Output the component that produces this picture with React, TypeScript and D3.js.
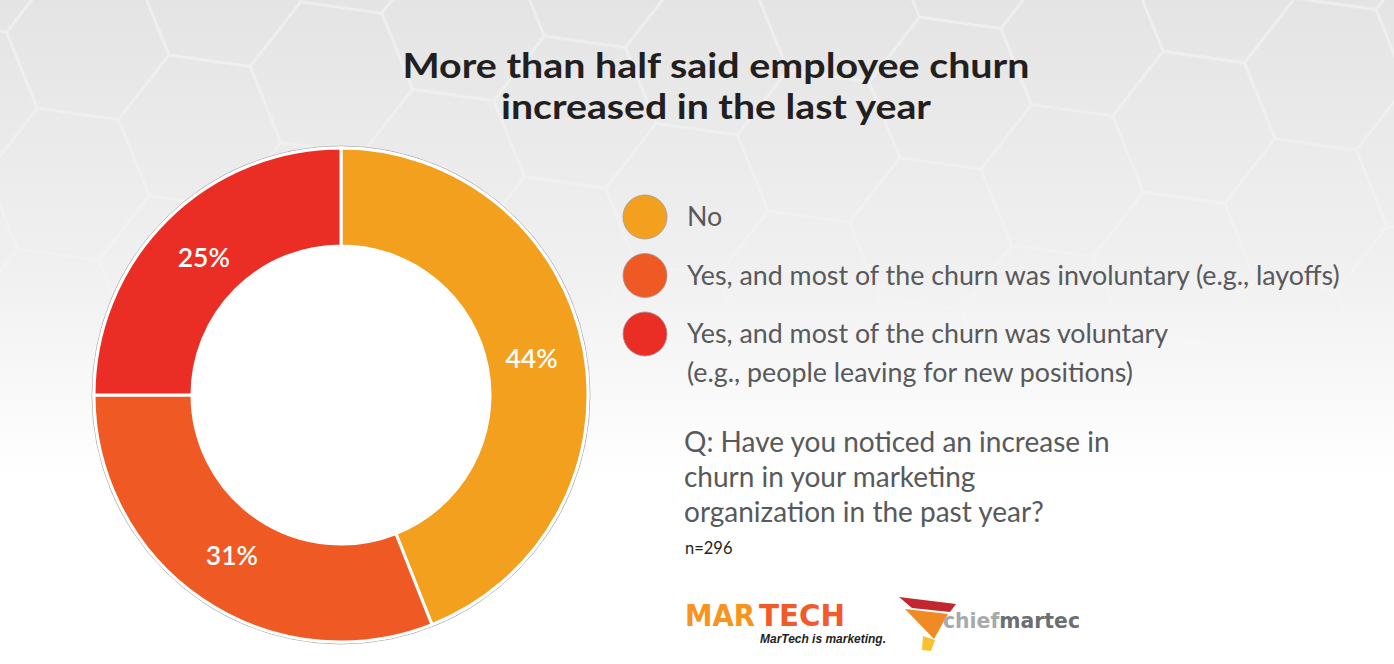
import React from "react";
import * as d3 from "d3";

const W = 1394;
const H = 664;

const titleLines = ["More than half said employee churn", "increased in the last year"];
const categories = ["No", "Yes, involuntary", "Yes, voluntary"];
const values = [44, 31, 25];
const colors = ["#F2A01E", "#EF5A24", "#EA2E25"];
const legendLines = [
  ["No"],
  ["Yes, and most of the churn was involuntary (e.g., layoffs)"],
  ["Yes, and most of the churn was voluntary", "(e.g., people leaving for new positions)"],
];
const questionLines = ["Q: Have you noticed an increase in", "churn in your marketing", "organization in the past year?"];
const sampleNote = "n=296";

export default function App() {
  const cx = 341;
  const cy = 395;
  const rOuter = 247;
  const rInner = 149;

  const pie = d3.pie<number>().sort(null).value((d) => d).startAngle(0).endAngle(2 * Math.PI);
  const arcs = pie(values);
  const arc = d3.arc<d3.PieArcDatum<number>>().innerRadius(rInner).outerRadius(rOuter);
  const labelArc = d3.arc<d3.PieArcDatum<number>>().innerRadius(194).outerRadius(194);

  const R = 82;
  const hh = Math.sqrt(3) * R;
  const hex = (x: number, y: number) => {
    const pts = d3.range(6).map((i) => {
      const a = (Math.PI / 3) * i;
      return [x + R * Math.cos(a), y + R * Math.sin(a)];
    });
    return "M" + pts.map((p) => p.join(",")).join("L") + "Z";
  };
  const hexPath = [hex(0, 0), hex(0, hh), hex(3 * R, 0), hex(3 * R, hh), hex(1.5 * R, hh / 2)].join(" ");

  const legendY = d3.scalePoint<string>().domain(categories).range([217, 334]);
  const titleWidths = [627, 430];

  return (
    <svg width={W} height={H} style={{ position: "fixed", left: 0, top: 0, display: "block" }}>
      <defs>
        <linearGradient id="bg" x1="0" y1="0" x2="0" y2="1">
          <stop offset="0" stopColor="#e4e4e4" />
          <stop offset="0.4" stopColor="#f0f0f0" />
          <stop offset="0.72" stopColor="#ffffff" />
          <stop offset="1" stopColor="#ffffff" />
        </linearGradient>
        <pattern id="hexes" patternUnits="userSpaceOnUse" width={3 * R} height={hh} x={-30} y={-40} patternTransform="rotate(8)">
          <path d={hexPath} fill="none" stroke="#ffffff" strokeWidth={3} strokeOpacity={0.4} />
        </pattern>
        <linearGradient id="fadeG" x1="0" y1="0" x2="0" y2="1">
          <stop offset="0" stopColor="#fff" stopOpacity={1} />
          <stop offset="0.7" stopColor="#fff" stopOpacity={0} />
        </linearGradient>
        <mask id="fade">
          <rect width={W} height={H} fill="url(#fadeG)" />
        </mask>
      </defs>
      <rect width={W} height={H} fill="url(#bg)" />
      <rect width={W} height={H} fill="url(#hexes)" mask="url(#fade)" />

      <g fontFamily="Lato, 'Open Sans', sans-serif" fontWeight={700} fontSize={34} fill="#231F20" textAnchor="middle">
        {titleLines.map((t, i) => (
          <text key={i} x={716} y={78 + i * 41} textLength={titleWidths[i]} lengthAdjust="spacingAndGlyphs">
            {t}
          </text>
        ))}
      </g>

      <g transform={`translate(${cx},${cy})`}>
        <circle r={rOuter + 2} fill="#ffffff" stroke="#b5b5b5" strokeWidth={1} />
        {arcs.map((a, i) => (
          <path key={i} d={arc(a) || ""} fill={colors[i]} stroke="#ffffff" strokeWidth={3} />
        ))}
        <circle r={rInner - 1} fill="#ffffff" />
        {arcs.map((a, i) => {
          const [x, y] = labelArc.centroid(a);
          return (
            <text
              key={i}
              x={x}
              y={y}
              dy="0.35em"
              textAnchor="middle"
              fontFamily="Lato, sans-serif"
              fontWeight={600}
              fontSize={26.5}
              fill="#ffffff"
            >
              {values[i]}%
            </text>
          );
        })}
      </g>

      <g fontFamily="Lato, sans-serif" fontSize={26.8} fill="#58595B">
        {categories.map((c, i) => {
          const y = legendY(c) as number;
          return (
            <g key={c}>
              <circle cx={645} cy={y} r={22} fill={colors[i]} stroke="#9a9a9a" strokeWidth={0.8} />
              {legendLines[i].map((t, j) => (
                <text key={j} x={687} y={y + 9 + j * 39}>
                  {t}
                </text>
              ))}
            </g>
          );
        })}
      </g>

      <g fontFamily="Lato, sans-serif" fontSize={28} fill="#58595B">
        {questionLines.map((t, i) => (
          <text key={i} x={684} y={452 + i * 35}>
            {t}
          </text>
        ))}
      </g>
      <text x={685} y={554} fontFamily="Lato, sans-serif" fontSize={16.5} fill="#231F20">
        {sampleNote}
      </text>

      <g fontFamily="'DejaVu Sans', 'Liberation Sans', sans-serif" fontWeight={700} fontSize={31}>
        <text x={685} y={626} fill="#F7941D" textLength={70} lengthAdjust="spacingAndGlyphs">
          MAR
        </text>
        <text x={759} y={626} fill="#F15A29" textLength={86} lengthAdjust="spacingAndGlyphs">
          TECH
        </text>
      </g>
      <text x={760} y={643} fontFamily="'Liberation Sans', Arial, sans-serif" fontStyle="italic" fontWeight={700} fontSize={12.5} fill="#231F20" textLength={126} lengthAdjust="spacingAndGlyphs">
        MarTech is marketing.
      </text>

      <g>
        <polygon points="899,597 956,604 950,612 912,608" fill="#C1272D" />
        <polygon points="905,609 948,614 934,639" fill="#F08A24" />
        <polygon points="923,636 935,640 931,651 922,650" fill="#FBC02D" />
        <text x={943} y={628} fontFamily="'DejaVu Sans', 'Liberation Sans', sans-serif" fontWeight={700} fontSize={21} textLength={137} lengthAdjust="spacingAndGlyphs">
          <tspan fill="#A7A9AC">chief</tspan>
          <tspan fill="#6D6E71">martec</tspan>
        </text>
      </g>
    </svg>
  );
}
